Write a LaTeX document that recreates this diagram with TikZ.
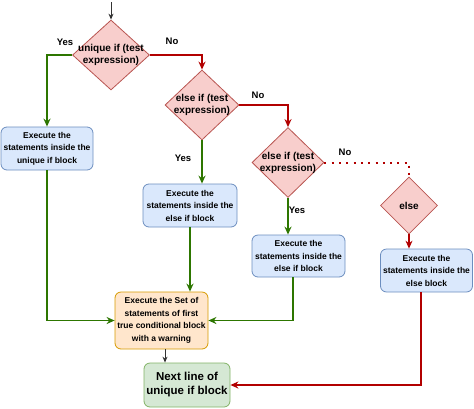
\documentclass[tikz,border=0pt]{standalone}
\usepackage{fontspec}
\setmainfont{Liberation Sans}
\usetikzlibrary{shapes.geometric,arrows.meta}
\definecolor{dfill}{HTML}{F8CECC}\definecolor{dline}{HTML}{B85450}
\definecolor{bfill}{HTML}{DAE8FC}\definecolor{bline}{HTML}{6C8EBF}
\definecolor{ofill}{HTML}{FFE6CC}\definecolor{oline}{HTML}{D79B00}
\definecolor{gfill}{HTML}{D5E8D4}\definecolor{gline}{HTML}{82B366}
\definecolor{gar}{HTML}{2D7600}\definecolor{rar}{HTML}{B20000}
\tikzset{
  dia/.style={diamond,draw=dline,fill=dfill,inner sep=0pt,line width=0.8pt},
  dtext/.style={font=\bfseries\fontsize{10}{12}\selectfont,align=center},
  blk/.style={rectangle,rounded corners=6pt,draw=#1line,fill=#1fill,line width=0.8pt,align=center,inner sep=0pt,
     font=\bfseries\fontsize{8.5}{12.5}\selectfont},
  lbl/.style={font=\bfseries\fontsize{9.5}{11}\selectfont},
  garr/.style={draw=gar,line width=1.8pt,-{Stealth[length=8pt,width=7pt]}},
  rarr/.style={draw=rar,line width=1.6pt,-{Stealth[length=8pt,width=7pt]}},
  rdot/.style={draw=rar,line width=2pt,dash pattern=on 2pt off 5.3pt},
  karr/.style={draw=black!80,line width=1pt,-{Stealth[length=6pt,width=5pt]}}
}
\begin{document}
\begin{tikzpicture}[x=1pt,y=-1pt]
\useasboundingbox (0,0) rectangle (474,408);
\coordinate (start) at (111,2);
\node[dia,minimum width=77pt,minimum height=70pt,label={[dtext]center:unique if (test\\expression)}] (d1) at (111,55) {};
\node[dia,minimum width=74pt,minimum height=70pt,label={[dtext]center:else if (test\\expression)}] (d2) at (202,105) {};
\node[dia,minimum width=72pt,minimum height=70pt,label={[dtext]center:else if (test\\expression)}] (d3) at (288,162.5) {};
\node[dia,minimum width=57pt,minimum height=57pt,label={[dtext]center:else}] (d4) at (409,205.5) {};
\node[blk=b,minimum width=92pt,minimum height=43pt] (b1) at (47,148.5) {Execute the\\statements inside the\\unique if block};
\node[blk=b,minimum width=94pt,minimum height=43pt] (b2) at (190,205.5) {Execute the\\statements inside the\\else if block};
\node[blk=b,minimum width=93pt,minimum height=42pt] (b3) at (298.5,256) {Execute the\\statements inside the\\else if block};
\node[blk=b,minimum width=92pt,minimum height=43pt] (b4) at (426.5,270.5) {Execute the\\statements inside the\\else block};
\node[blk=o,minimum width=93pt,minimum height=57pt] (b5) at (161.5,320.5) {Execute the Set of\\statements of first\\true conditional block\\with a warning};
\node[blk=g,minimum width=86pt,minimum height=44pt,font=\bfseries\fontsize{11.5}{14}\selectfont] (b6) at (187,385) {Next line of\\unique if block};
\node[lbl] (y1) at (65,42) {Yes};
\node[lbl] (n1) at (172,41) {No};
\node[lbl] (n2) at (258,95) {No};
\node[lbl] (y2) at (183,158) {Yes};
\node[lbl] (n3) at (345,152) {No};
\node[lbl] (y3) at (297,210) {Yes};
\draw[karr] (start) -- (d1.north);
\draw[garr] (d1.west) -| (b1.north);
\draw[rarr] (d1.east) -| (d2.north);
\draw[rarr] (d2.east) -| (d3.north);
\draw[rdot] (d3.east) -| (d4.north);
\draw[rarr,line width=1.1pt] (d4.south) -- (d4.south |- b4.north);
\draw[garr] (d2.south) -- (d2.south |- b2.north);
\draw[garr] (d3.south) -- (d3.south |- b3.north);
\draw[garr] (b1.south) |- (b5.west);
\draw[garr] (b2.south) -- (b2.south |- b5.north);
\draw[garr] ([xshift=-5.5pt]b3.south) |- (b5.east);
\draw[rarr] ([xshift=-5.5pt]b4.south) |- (b6.east);
\draw[karr] ([xshift=3.5pt]b5.south) -- ([xshift=3.5pt]b5.south |- b6.north);
\end{tikzpicture}
\end{document}
